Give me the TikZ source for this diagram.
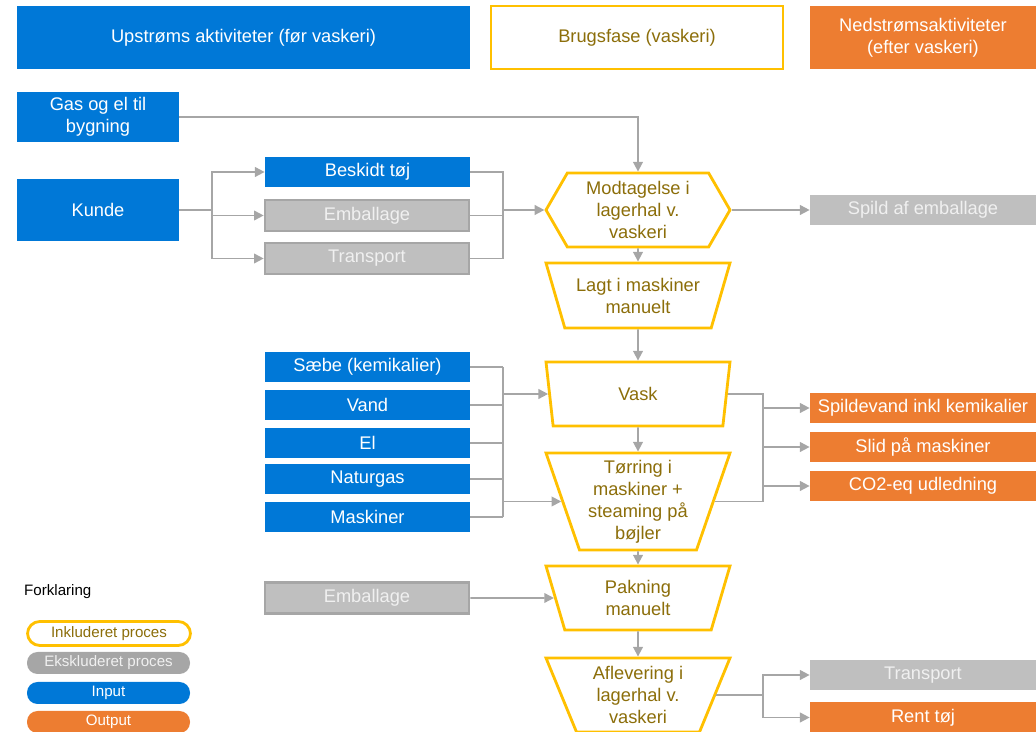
\documentclass[tikz,border=0pt]{standalone}
\usepackage{fontspec}
\setmainfont{Liberation Sans}
\usetikzlibrary{arrows.meta,shapes.geometric,shapes.symbols}
\definecolor{inblue}{RGB}{0,120,215}
\definecolor{outorange}{RGB}{237,125,49}
\definecolor{procyellow}{RGB}{255,192,0}
\definecolor{proctext}{RGB}{140,110,10}
\definecolor{exgray}{RGB}{191,191,191}
\definecolor{linegray}{RGB}{166,166,166}
\begin{document}
\begin{tikzpicture}[x=0.02cm, y=-0.02cm,
  font=\fontsize{10.4}{12.5}\selectfont,
  box/.style 2 args={minimum width=#1*0.02cm, minimum height=#2*0.02cm, inner sep=0pt, align=center},
  inbox/.style={fill=inblue, text=white},
  outbox/.style={fill=outorange, text=white},
  exbox/.style={fill=exgray, text=white!94!black},
  exframe/.style={exbox, draw=linegray, line width=1.5pt},
  proc/.style={draw=procyellow, line width=1.6pt, fill=white, text=proctext},
  funnel/.style={proc, trapezium, shape border rotate=180, trapezium angle=62,
    trapezium stretches body, box={184}{#1}},
  hexa/.style={proc, signal, signal to=west and east, signal pointer angle=120, box={184}{74}},
  line/.style={draw=linegray, line width=1pt},
  conn/.style={line, -{Triangle[length=5.5pt,width=5.5pt]}},
  pill/.style={box={163}{22}, rounded corners=6pt, font=\fontsize{8.6}{10}\selectfont}]
  \useasboundingbox (0,0) rectangle (1036,732);
  % headers
  \node[box={453}{63}, inbox] (up) at (243.5,37.5) {Upstrøms aktiviteter (før vaskeri)};
  \node[box={292}{63}, proc] (brug) at (637,37.5) {Brugsfase (vaskeri)};
  \node[box={226}{63}, outbox] (ned) at (923,37.5) {Nedstrømsaktiviteter\\(efter vaskeri)};
  % upstream inputs
  \node[box={162}{50}, inbox] (gas) at (98,117) {Gas og el til\\bygning};
  \node[box={162}{62}, inbox] (kunde) at (98,210) {Kunde};
  \node[box={205}{30}, inbox] (besk) at (367.5,172) {Beskidt tøj};
  \node[box={204}{31}, exframe] (emb1) at (367,215.5) {Emballage};
  \node[box={204}{31}, exframe] (trans1) at (367,258.5) {Transport};
  % process chain
  \node[hexa] (modt) at (638,210) {Modtagelse i\\lagerhal v.\\vaskeri};
  \node[funnel=65] (lagt) at (638,295.5) {Lagt i maskiner\\manuelt};
  \node[funnel=64] (vask) at (638,394) {Vask};
  \node[funnel=97, trapezium angle=68] (tor) at (638,501.5) {Tørring i\\maskiner +\\steaming på\\bøjler};
  \node[funnel=64] (pak) at (638,598) {Pakning\\manuelt};
  \node[funnel=74] (afl) at (638,695) {Aflevering i\\lagerhal v.\\vaskeri};
  % inputs to washing
  \node[box={205}{30}, inbox] (saebe) at (367.5,367) {Sæbe (kemikalier)};
  \node[box={205}{30}, inbox] (vand) at (367.5,405) {Vand};
  \node[box={205}{30}, inbox] (el) at (367.5,443) {El};
  \node[box={205}{30}, inbox] (natur) at (367.5,479) {Naturgas};
  \node[box={205}{30}, inbox] (mask) at (367.5,517) {Maskiner};
  \node[box={204}{31}, exframe] (emb2) at (367,598) {Emballage};
  % outputs
  \node[box={226}{30}, exbox] (spild) at (923,210) {Spild af emballage};
  \node[box={226}{30}, outbox] (spv) at (923,408) {Spildevand inkl kemikalier};
  \node[box={226}{30}, outbox] (slid) at (923,447) {Slid på maskiner};
  \node[box={226}{30}, outbox] (co2) at (923,486) {CO2-eq udledning};
  \node[box={226}{30}, exbox] (trans2) at (923,675) {Transport};
  \node[box={226}{30}, outbox] (rent) at (923,717.5) {Rent tøj};
  % branch points
  \coordinate (ksplit) at (212,210);
  \coordinate (kmerge) at (503,210);
  \coordinate (imerge) at (503,0);
  \coordinate (omerge) at (763,0);
  % connectors upstream
  \draw[conn] (gas.east) -| (modt.north);
  \draw[line] (kunde.east) -- (ksplit);
  \draw[conn] (ksplit) |- (besk.west);
  \draw[conn] (ksplit) |- (emb1.west);
  \draw[conn] (ksplit) |- (trans1.west);
  \draw[line] (besk.east) -| (kmerge);
  \draw[line] (emb1.east) -| (kmerge);
  \draw[line] (trans1.east) -| (kmerge);
  \draw[conn] (kmerge) -- (modt.west);
  \draw[conn] (modt.east) -- (spild.west);
  % main chain
  \draw[conn] (modt.south) -- (lagt.north);
  \draw[conn] (lagt.south) -- (vask.north);
  \draw[conn] (vask.south) -- (tor.north);
  \draw[conn] (tor.south) -- (pak.north);
  \draw[conn] (pak.south) -- (afl.north);
  % inputs to washing and drying
  \foreach \n in {saebe,vand,el,natur,mask}
    \draw[line] (\n.east) -- (imerge |- \n.east);
  \draw[line] (imerge |- saebe.east) -- (imerge |- mask.east);
  \draw[conn] (imerge |- vask.west) -- (vask.west);
  \draw[conn] (imerge |- tor.west) -- (tor.west);
  \draw[conn] (emb2.east) -- (pak.west);
  % outputs from washing and drying
  \draw[line] (vask.east) -- (omerge |- vask.east) -- (omerge |- tor.east) -- (tor.east);
  \foreach \n in {spv,slid,co2}
    \draw[conn] (omerge |- \n.west) -- (\n.west);
  \draw[line] (afl.east) -- (omerge |- afl.east);
  \draw[conn] (omerge |- afl.east) |- (trans2.west);
  \draw[conn] (omerge |- afl.east) |- (rent.west);
  % legend
  \node[anchor=west, font=\fontsize{8.6}{10}\selectfont] (forkl) at (18,592) {Forklaring};
  \node[pill, proc, box={163}{24}, rounded corners=7pt] (leg1) at (109,633.5) {Inkluderet proces};
  \node[pill, fill=linegray, text=white!94!black] (leg2) at (108.5,663) {Ekskluderet proces};
  \node[pill, inbox] (leg3) at (108.5,693) {Input};
  \node[pill, outbox] (leg4) at (108.5,722) {Output};
\end{tikzpicture}
\end{document}
